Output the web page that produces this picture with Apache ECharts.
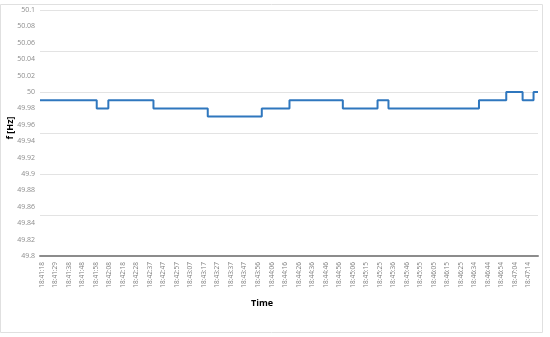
<!DOCTYPE html>
<html>
<head>
<meta charset="utf-8">
<script src="https://cdn.jsdelivr.net/npm/echarts@6/dist/echarts.min.js"></script>
<style>
html,body{margin:0;padding:0;background:#fff;}
#chart{width:550px;height:337px;}
</style>
</head>
<body>
<div id="chart"></div>
<script>
// Tick labels of the time axis (one per category position)
const timeLabels = ["18:41:18","18:41:29","18:41:38","18:41:48","18:41:58","18:42:08","18:42:18","18:42:28","18:42:37","18:42:47","18:42:57","18:43:07","18:43:17","18:43:27","18:43:37","18:43:47","18:43:56","18:44:06","18:44:16","18:44:26","18:44:36","18:44:46","18:44:56","18:45:06","18:45:15","18:45:25","18:45:36","18:45:46","18:45:55","18:46:05","18:46:15","18:46:25","18:46:34","18:46:44","18:46:54","18:47:04","18:47:14"];
// Positions (in label-index units) where the frequency level changes
const changePos = [-0.15, 4.05, 4.91, 8.25, 12.27, 16.27, 18.32, 22.27, 24.84, 25.65, 32.35, 34.37, 35.58, 36.39, 36.72];
// Frequency level starting at each change position
const freqHz = [49.99, 49.98, 49.99, 49.98, 49.97, 49.98, 49.99, 49.98, 49.99, 49.98, 49.99, 50.00, 49.99, 50.00, 50.00];
const yTicks = [49.8, 49.82, 49.84, 49.86, 49.88, 49.9, 49.92, 49.94, 49.96, 49.98, 50, 50.02, 50.04, 50.06, 50.08, 50.1];

const chart = echarts.init(document.getElementById('chart'), null, {renderer: 'canvas'});
const labelIdx = timeLabels.map((_, i) => i);
const seriesData = changePos.map((x, i) => [x, freqHz[i]]);

chart.setOption({
  animation: false,
  textStyle: {fontFamily: 'Open Sans, Liberation Sans, sans-serif'},
  grid: {left: 40, right: 12, top: 10, bottom: 81, containLabel: false},
  xAxis: {
    type: 'value',
    min: -0.15,
    max: 36.72,
    axisLine: {show: true, onZero: false, lineStyle: {color: '#8c8c8c', width: 2}},
    axisTick: {show: false},
    splitLine: {show: false},
    axisLabel: {
      customValues: labelIdx,
      rotate: 90,
      fontSize: 6.5,
      color: '#7f7f7f',
      margin: 6,
      formatter: v => timeLabels[Math.round(v)] || ''
    }
  },
  yAxis: {
    type: 'value',
    min: 49.8,
    max: 50.1,
    axisLine: {show: false},
    axisTick: {show: false},
    splitLine: {show: true, lineStyle: {color: '#e3e3e3', width: 1}},
    axisLabel: {
      customValues: yTicks,
      fontSize: 7,
      color: '#8c8c8c',
      margin: 5,
      formatter: v => String(parseFloat(v.toFixed(2)))
    }
  },
  series: [{
    type: 'line',
    step: 'end',
    data: seriesData,
    showSymbol: false,
    lineStyle: {color: '#2f77be', width: 2}
  }],
  graphic: [
    {type: 'rect', shape: {x: 0.5, y: 4.5, width: 542, height: 328}, style: {fill: 'none', stroke: '#e0e0e0', lineWidth: 1}, silent: true},
    {type: 'text', x: 10, y: 128, rotation: Math.PI / 2, style: {text: 'f [Hz]', fontSize: 9, fontWeight: 'bold', fill: '#000', textAlign: 'center', textVerticalAlign: 'middle', fontFamily: 'Open Sans, sans-serif'}},
    {type: 'text', x: 262, y: 303, style: {text: 'Time', fontSize: 9, fontWeight: 'bold', fill: '#000', textAlign: 'center', textVerticalAlign: 'middle', fontFamily: 'Open Sans, sans-serif'}}
  ]
});
</script>
</body>
</html>
